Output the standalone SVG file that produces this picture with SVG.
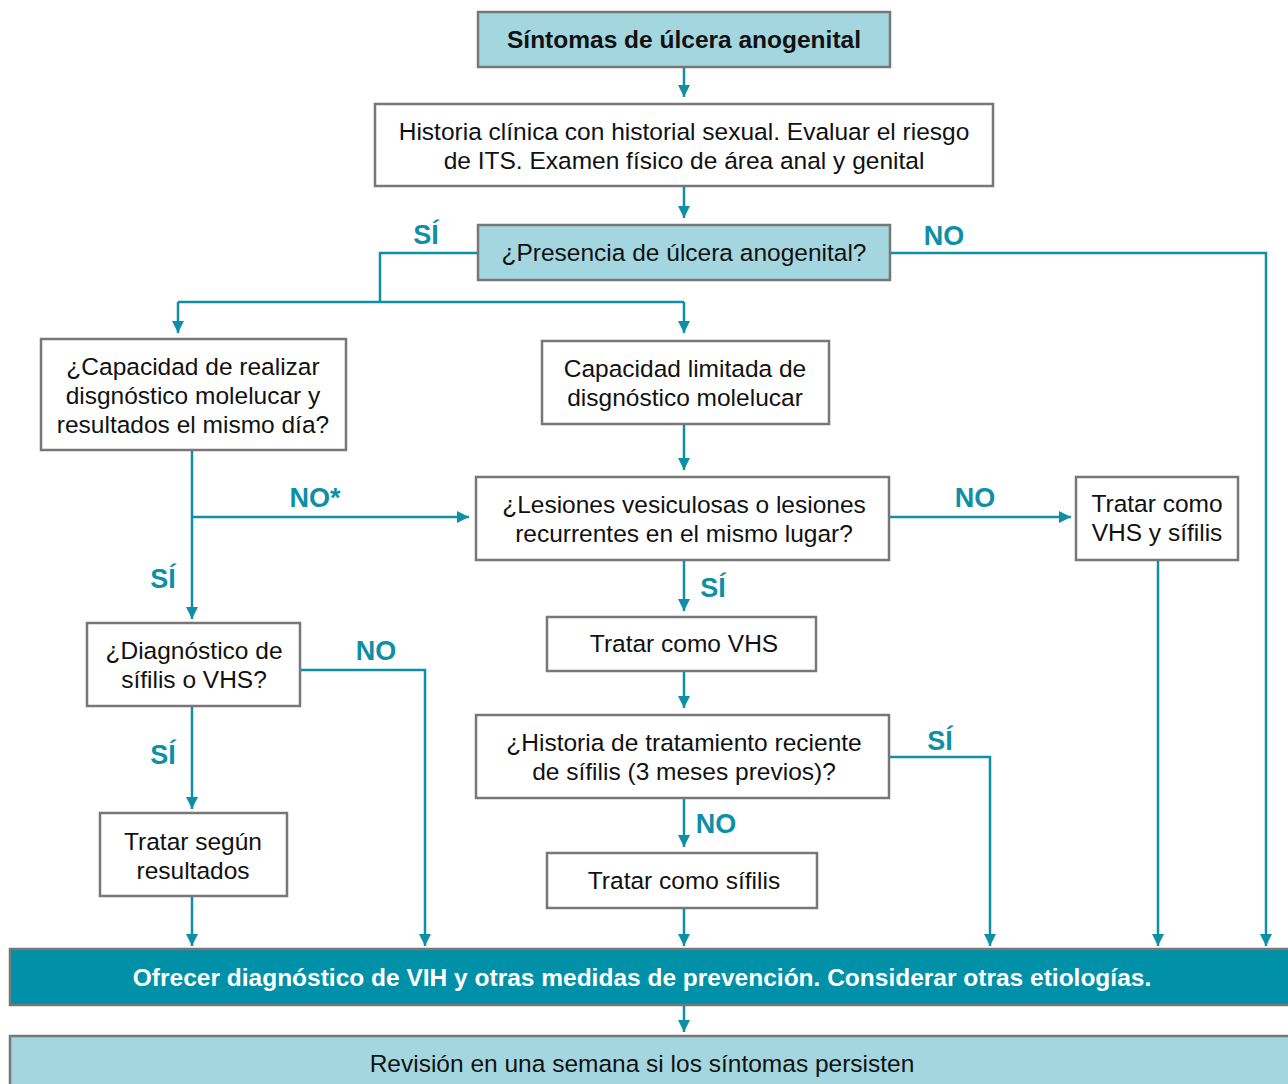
<svg xmlns="http://www.w3.org/2000/svg" width="1288" height="1084" viewBox="0 0 1288 1084">
<defs>
<marker id="ah" markerWidth="12" markerHeight="12" viewBox="0 0 12 12" refX="12" refY="6" orient="auto" markerUnits="userSpaceOnUse">
<path d="M0,0 L12,6 L0,12 Z" fill="#0e8fa6"/>
</marker>
<style>
.box{fill:#ffffff;stroke:#777777;stroke-width:2.5}
.lb{fill:#a3d6df;stroke:#777777;stroke-width:2.5}
.db{fill:#0090a8;stroke:#777777;stroke-width:2.5}
.t{font-family:"Liberation Sans",Arial,sans-serif;font-size:24.5px;fill:#111111;text-anchor:middle}
.tb{font-family:"Liberation Sans",Arial,sans-serif;font-size:24.5px;font-weight:bold;fill:#111111;text-anchor:middle}
.tw{font-family:"Liberation Sans",Arial,sans-serif;font-size:24.5px;font-weight:bold;fill:#ffffff;text-anchor:middle}
.lab{font-family:"Liberation Sans",Arial,sans-serif;font-size:27px;font-weight:bold;fill:#0e8fa6;text-anchor:middle}
.c{fill:none;stroke:#0e8fa6;stroke-width:2.5}
.a{marker-end:url(#ah)}
</style>
</defs>
<rect width="1288" height="1084" fill="#ffffff"/>

<g id="connectors">
<path class="c a" d="M684,67 V97"/>
<path class="c a" d="M684,186 V218"/>
<path class="c" d="M478,253 H380 V302"/>
<path class="c" d="M178,302 H684"/>
<path class="c a" d="M178,302 V333"/>
<path class="c a" d="M684,302 V333"/>
<path class="c a" d="M890,253 H1266 V946"/>
<path class="c a" d="M192,450 V619"/>
<path class="c a" d="M192,517 H469"/>
<path class="c a" d="M684,424 V470"/>
<path class="c a" d="M889,517 H1071"/>
<path class="c a" d="M684,560 V611"/>
<path class="c a" d="M684,671 V708"/>
<path class="c a" d="M684,798 V847"/>
<path class="c a" d="M684,908 V946"/>
<path class="c a" d="M889,757 H990 V946"/>
<path class="c a" d="M1158,560 V946"/>
<path class="c a" d="M300,670 H425 V946"/>
<path class="c a" d="M192,706 V809"/>
<path class="c a" d="M192,896 V946"/>
<path class="c a" d="M684,1005 V1032"/>
</g>

<g id="labels">
<text class="lab" x="426" y="244">SÍ</text>
<text class="lab" x="944" y="245">NO</text>
<text class="lab" x="315" y="507">NO*</text>
<text class="lab" x="163" y="588">SÍ</text>
<text class="lab" x="975" y="507">NO</text>
<text class="lab" x="713" y="597">SÍ</text>
<text class="lab" x="376" y="660">NO</text>
<text class="lab" x="163" y="764">SÍ</text>
<text class="lab" x="940" y="750">SÍ</text>
<text class="lab" x="716" y="833">NO</text>
</g>

<g id="n1"><rect class="lb" x="478" y="12" width="412" height="55"/><text class="tb" x="684" y="48">Síntomas de úlcera anogenital</text></g>
<g id="n2"><rect class="box" x="375" y="104" width="618" height="82"/><text class="t" x="684" y="140">Historia clínica con historial sexual. Evaluar el riesgo</text><text class="t" x="684" y="169">de ITS. Examen físico de área anal y genital</text></g>
<g id="n3"><rect class="lb" x="478" y="225" width="412" height="55"/><text class="t" x="684" y="261">¿Presencia de úlcera anogenital?</text></g>
<g id="n4"><rect class="box" x="41" y="339" width="305" height="111"/><text class="t" x="193" y="375">¿Capacidad de realizar</text><text class="t" x="193" y="404">disgnóstico molelucar y</text><text class="t" x="193" y="433">resultados el mismo día?</text></g>
<g id="n5"><rect class="box" x="542" y="341" width="287" height="83"/><text class="t" x="685" y="377">Capacidad limitada de</text><text class="t" x="685" y="406">disgnóstico molelucar</text></g>
<g id="n6"><rect class="box" x="476" y="477" width="413" height="83"/><text class="t" x="684" y="513">¿Lesiones vesiculosas o lesiones</text><text class="t" x="684" y="542">recurrentes en el mismo lugar?</text></g>
<g id="n7"><rect class="box" x="1076" y="477" width="162" height="83"/><text class="t" x="1157" y="512">Tratar como</text><text class="t" x="1157" y="541">VHS y sífilis</text></g>
<g id="n8"><rect class="box" x="87" y="623" width="213" height="83"/><text class="t" x="194" y="659">¿Diagnóstico de</text><text class="t" x="194" y="688">sífilis o VHS?</text></g>
<g id="n9"><rect class="box" x="547" y="617" width="269" height="54"/><text class="t" x="684" y="652">Tratar como VHS</text></g>
<g id="n10"><rect class="box" x="476" y="715" width="413" height="83"/><text class="t" x="684" y="751">¿Historia de tratamiento reciente</text><text class="t" x="684" y="780">de sífilis (3 meses previos)?</text></g>
<g id="n11"><rect class="box" x="100" y="813" width="187" height="83"/><text class="t" x="193" y="850">Tratar según</text><text class="t" x="193" y="879">resultados</text></g>
<g id="n12"><rect class="box" x="547" y="853" width="270" height="55"/><text class="t" x="684" y="889">Tratar como sífilis</text></g>
<g id="n13"><rect class="db" x="10" y="949" width="1290" height="56"/><text class="tw" x="642" y="986">Ofrecer diagnóstico de VIH y otras medidas de prevención. Considerar otras etiologías.</text></g>
<g id="n14"><rect class="lb" x="10" y="1036" width="1290" height="60"/><text class="t" x="642" y="1072">Revisión en una semana si los síntomas persisten</text></g>
</svg>
